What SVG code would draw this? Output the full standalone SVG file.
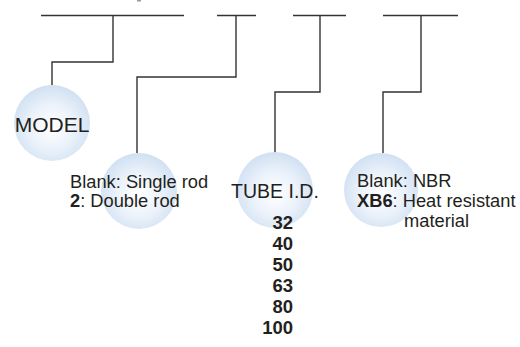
<svg xmlns="http://www.w3.org/2000/svg" width="520" height="347" viewBox="0 0 520 347">
<defs>
<radialGradient id="ball" cx="0.5" cy="0.55" r="0.55">
<stop offset="0" stop-color="#ffffff"/>
<stop offset="0.5" stop-color="#edf3fb"/>
<stop offset="1" stop-color="#d0e0f2"/>
</radialGradient>
<style>
.ln{fill:none;stroke:#333333;stroke-width:1.4}
.c{fill:url(#ball)}
.t{font-family:"Liberation Sans",Arial,sans-serif;fill:#231f20}
.b{font-weight:bold}
</style>
</defs>
<rect width="520" height="347" fill="#ffffff"/>
<rect x="137" y="0" width="4" height="1.5" fill="#9a9a9a"/>
<g id="connectors">
<path class="ln" d="M41 15.5H184M113 15.5V62H52V86"/>
<path class="ln" d="M217 15.5H256M236 15.5V77H137V153"/>
<path class="ln" d="M293 15.5H346M320 15.5V92H275V153"/>
<path class="ln" d="M383 15.5H458M421 15.5V92H383V153"/>
</g>
<g id="model">
<circle class="c" cx="52" cy="123" r="38"/>
<text class="t" x="52" y="132" font-size="21" text-anchor="middle">MODEL</text>
</g>
<g id="rod">
<circle class="c" cx="139" cy="191" r="38"/>
<text class="t" x="70" y="187.5" font-size="18.3">Blank: Single rod</text>
<text class="t" x="70" y="206.5" font-size="18.3"><tspan class="b">2</tspan>: Double rod</text>
</g>
<g id="tube">
<circle class="c" cx="275" cy="190" r="38"/>
<text class="t" x="275" y="198" font-size="19.5" text-anchor="middle">TUBE I.D.</text>
<g class="t b" font-size="18.5" text-anchor="end">
<text x="293" y="229">32</text>
<text x="293" y="250">40</text>
<text x="293" y="271">50</text>
<text x="293" y="292">63</text>
<text x="293" y="313">80</text>
<text x="293" y="334">100</text>
</g>
</g>
<g id="material">
<circle class="c" cx="381" cy="190" r="37"/>
<text class="t" x="357" y="187" font-size="18.3">Blank: NBR</text>
<text class="t" x="357" y="206.5" font-size="18.3"><tspan class="b">XB6</tspan>: Heat resistant</text>
<text class="t" x="404" y="227" font-size="18.3">material</text>
</g>
</svg>
